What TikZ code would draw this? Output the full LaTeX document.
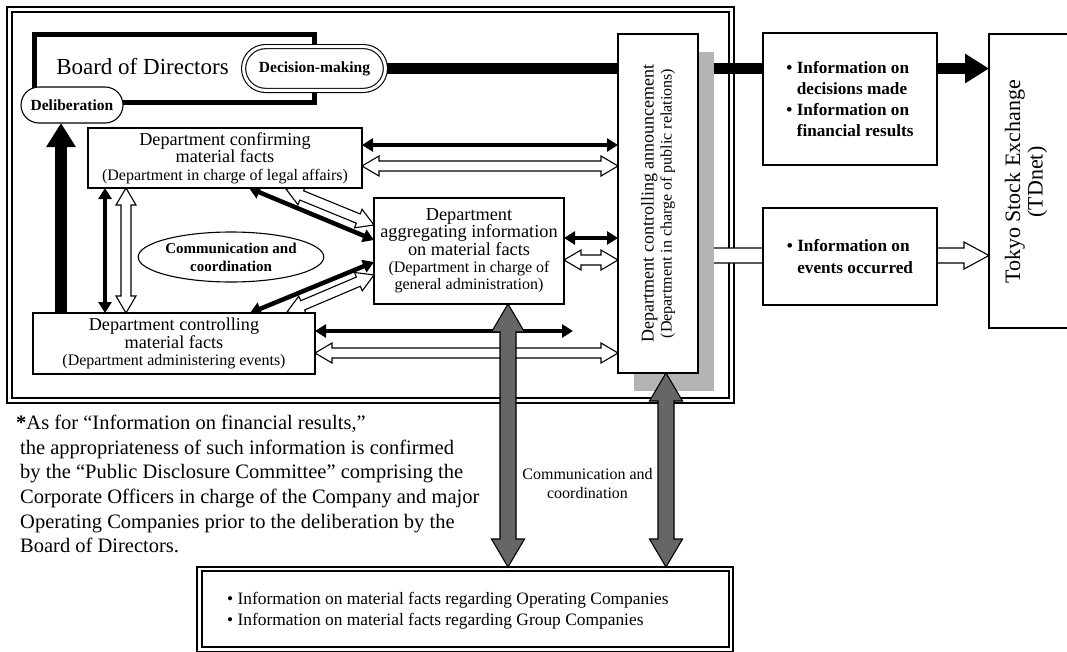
\documentclass[tikz,border=0pt]{standalone}
\usepackage{fontspec}
\setmainfont{Liberation Serif}
\usetikzlibrary{arrows.meta,calc,shapes.geometric}
\pgfdeclarelayer{lowest}
\pgfdeclarelayer{arrowlayer}
\pgfsetlayers{lowest,arrowlayer,main}
\newcommand\fsz[2]{\fontsize{#1}{#2}\selectfont}
\definecolor{shadowgray}{RGB}{180,180,180}
\definecolor{arrowgray}{RGB}{102,102,102}
\tikzset{
 box/.style={draw, line width=1.1pt, fill=white, inner sep=0pt, outer sep=0pt, align=center},
 hollowline/.style={draw, fill=white, line width=1.1pt, line join=miter},
 bk/.style={line width=4.5pt, {Triangle[width=13pt,length=11pt]}-{Triangle[width=13pt,length=11pt]}},
 bigarrow/.style={line width=#1, -{Triangle[width=28pt,length=24pt]}},
 pill/.style={draw, line width=1.1pt, fill=white, inner sep=0pt, outer sep=0pt, font=\bfseries\fsz{15.5}{18}},
}
% double-headed hollow arrow: [style]{A}{B}{half shaft}{half head}{head length}
\newcommand\hollowdbl[6][]{%
  \path (#2) coordinate (hA) (#3) coordinate (hB);
  \draw[hollowline,#1] (hA)
   -- ($(hA)!#6!(hB)!#5!90:(hB)$)
   -- ($(hA)!#6!(hB)!#4!90:(hB)$)
   -- ($(hB)!#6!(hA)!#4!-90:(hA)$)
   -- ($(hB)!#6!(hA)!#5!-90:(hA)$)
   -- (hB)
   -- ($(hB)!#6!(hA)!#5!90:(hA)$)
   -- ($(hB)!#6!(hA)!#4!90:(hA)$)
   -- ($(hA)!#6!(hB)!#4!-90:(hB)$)
   -- ($(hA)!#6!(hB)!#5!-90:(hB)$)
   -- cycle;}
% single-headed hollow arrow
\newcommand\hollowone[6][]{%
  \path (#2) coordinate (hA) (#3) coordinate (hB);
  \draw[hollowline,#1] ($(hA)!#4!90:(hB)$)
   -- ($(hB)!#6!(hA)!#4!-90:(hA)$)
   -- ($(hB)!#6!(hA)!#5!-90:(hA)$)
   -- (hB)
   -- ($(hB)!#6!(hA)!#5!90:(hA)$)
   -- ($(hB)!#6!(hA)!#4!90:(hA)$)
   -- ($(hA)!#4!-90:(hB)$)
   -- cycle;}
\begin{document}
\begin{tikzpicture}[x=1pt,y=-1pt]
\useasboundingbox (0,0) rectangle (1067,651);
\begin{pgfonlayer}{lowest}
\fill[white] (0,0) rectangle (1067,651);
\draw[line width=1.1pt] (7,7) rectangle (734,403);
\draw[line width=1.1pt] (12,12) rectangle (729,398);
\end{pgfonlayer}

% Board of Directors
\node[draw, line width=5pt, minimum width=280pt, minimum height=68pt, inner sep=0pt] (board) at (174.5,68.5) {};
\node[anchor=base, font=\fsz{23}{26}, inner sep=0pt] (bodtext) at (142.5,74) {Board of Directors};
\node[pill, double, double distance=3pt, minimum width=141.8pt, minimum height=43.8pt, rounded corners=21.9pt] (dec) at (314.5,68.5) {Decision-making};
\node[pill, minimum width=102pt, minimum height=36pt, rounded corners=18pt] (delib) at (72,105) {Deliberation};

% departments
\node[box, minimum width=274pt, minimum height=60pt, font=\fsz{18.2}{17.5}] (conf) at (225,158)
  {Department confirming\\material facts\\{\fsz{16}{15}(Department in charge of legal affairs)}};
\node[box, minimum width=282pt, minimum height=61pt, font=\fsz{18.2}{17.5}] (ctrl) at (174,343.5)
  {Department controlling\\material facts\\{\fsz{16}{15}(Department administering events)}};
\node[box, minimum width=190pt, minimum height=106pt, font=\fsz{18.3}{17.3}] (agg) at (469,251)
  {Department\\aggregating information\\on material facts\\{\fsz{16}{15}(Department in charge of}\\{\fsz{16}{15}general administration)}};
\node[ellipse, draw, line width=1.1pt, minimum width=158pt, minimum height=50pt, inner sep=0pt, align=center, font=\bfseries\fsz{15}{18}] (cc) at (231,257)
  {Communication and\\coordination};

\node[box, minimum width=80pt, minimum height=339pt] (pr) at (658,203.5) {};
\node[rotate=90, align=center, inner sep=0pt, font=\fsz{18}{18}] (prtext) at (pr.center)
  {Department controlling announcement\\{\fsz{16}{15}(Department in charge of public relations)}};

\node[box, minimum width=174pt, minimum height=132pt, align=left, font=\bfseries\fsz{17.2}{21.3}] (info1) at (850,99)
  {\textbullet\ Information on\\\hphantom{\textbullet\ }decisions made\\\textbullet\ Information on\\\hphantom{\textbullet\ }financial results};
\node[box, minimum width=174pt, minimum height=97pt, align=left, font=\bfseries\fsz{17.2}{21.3}] (info2) at (850,256.5)
  {\textbullet\ Information on\\\hphantom{\textbullet\ }events occurred};

\node[box, minimum width=90pt, minimum height=294pt] (tse) at (1034,181) {};
\node[rotate=90, align=center, inner sep=0pt, font=\fsz{22}{22.5}] (tsetext) at (1026,182)
  {Tokyo Stock Exchange\\(TDnet)};

\node[box, minimum width=527pt, minimum height=76pt] (bot) at (465.5,609) {};
\draw[line width=1.1pt] ($(bot.north west)+(-5,-4)$) rectangle ($(bot.south east)+(4,4.5)$);
\node[anchor=west, align=left, inner sep=0pt, font=\fsz{17.4}{21}] (bottext) at (227,611)
  {\textbullet\ Information on material facts regarding Operating Companies\\\textbullet\ Information on material facts regarding Group Companies};

\node[anchor=north west, align=left, inner sep=0pt, font=\fsz{20.5}{24.6}] (note) at (16,415)
  {\textbf{*}As for “Information on financial results,”\\
   \hspace*{4pt}the appropriateness of such information is confirmed\\
   \hspace*{4pt}by the “Public Disclosure Committee” comprising the\\
   \hspace*{4pt}Corporate Officers in charge of the Company and major\\
   \hspace*{4pt}Operating Companies prior to the deliberation by the\\
   \hspace*{4pt}Board of Directors.};

\node[align=center, inner sep=0pt, font=\fsz{16}{19}] (ccl) at (587.5,484) {Communication and\\coordination};

% helper coordinates
\path ($(conf.east)+(0,-13)$) coordinate (h1)
 ($(conf.east)+(0,8)$) coordinate (h2)
 ($(agg.east)+(0,-13)$) coordinate (h3)
 ($(agg.east)+(0,9)$) coordinate (h4)
 ($(ctrl.east)+(0,-12.5)$) coordinate (h5)
 ($(ctrl.east)+(258,-12.5)$) coordinate (h5end)
 ($(ctrl.east)+(0,9.5)$) coordinate (h6)
 ($(conf.south west)+(17,0)$) coordinate (v1)
 ($(conf.south west)+(38,0)$) coordinate (v2)
 ($(conf.south west)+(161,0)$) coordinate (d1a)
 ($(agg.west)+(0,-11)$) coordinate (d1b)
 ($(conf.south west)+(198,1)$) coordinate (d2a)
 ($(agg.west)+(0,-26)$) coordinate (d2b)
 ($(ctrl.north west)+(217,0)$) coordinate (d3a)
 ($(agg.west)+(0,11)$) coordinate (d3b)
 ($(ctrl.north west)+(254,-1)$) coordinate (d4a)
 ($(agg.west)+(0,24)$) coordinate (d4b)
 ($(ctrl.north west)+(28,0)$) coordinate (up1)
 ($(pr.east)+(-20,52)$) coordinate (w1)
 ($(agg.south west)+(134,0)$) coordinate (g1)
 ($(pr.south)+(8,0)$) coordinate (g2);

\begin{pgfonlayer}{arrowlayer}
\draw[bk] (h1) -- (pr.west |- h1);
\hollowdbl{h2}{pr.west |- h2}{5pt}{10pt}{17pt}
\draw[bk] (h3) -- (pr.west |- h3);
\hollowdbl{h4}{pr.west |- h4}{5pt}{10pt}{17pt}
\draw[bk] (h5) -- (h5end);
\hollowdbl{h6}{pr.west |- h6}{5pt}{10pt}{17pt}
\draw[bk] (v1) -- (ctrl.north -| v1);
\hollowdbl{v2}{ctrl.north -| v2}{5pt}{10pt}{17pt}
\draw[bk] (d1a) -- (d1b);
\hollowdbl{d2a}{d2b}{5pt}{10pt}{17pt}
\draw[bk] (d3a) -- (d3b);
\hollowdbl{d4a}{d4b}{5pt}{10pt}{17pt}
\draw[bigarrow=12pt] (up1) -- (delib.south -| up1);
\draw[bigarrow=11pt] (dec.east) -- (tse.west |- dec.east);
\hollowone{w1}{tse.west |- w1}{7.5pt}{13.5pt}{25pt}
\fill[shadowgray] ($(pr.south west)+(16,18)$) rectangle ($(pr.north east)+(16,18)$);
\end{pgfonlayer}

% gray communication arrows
\hollowdbl[fill=arrowgray]{g1}{$(bot.north -| g1)+(0,-4)$}{8pt}{16.5pt}{28pt}
\hollowdbl[fill=arrowgray]{g2}{$(bot.north -| g2)+(0,-4)$}{8pt}{16.5pt}{28pt}
\end{tikzpicture}
\end{document}
